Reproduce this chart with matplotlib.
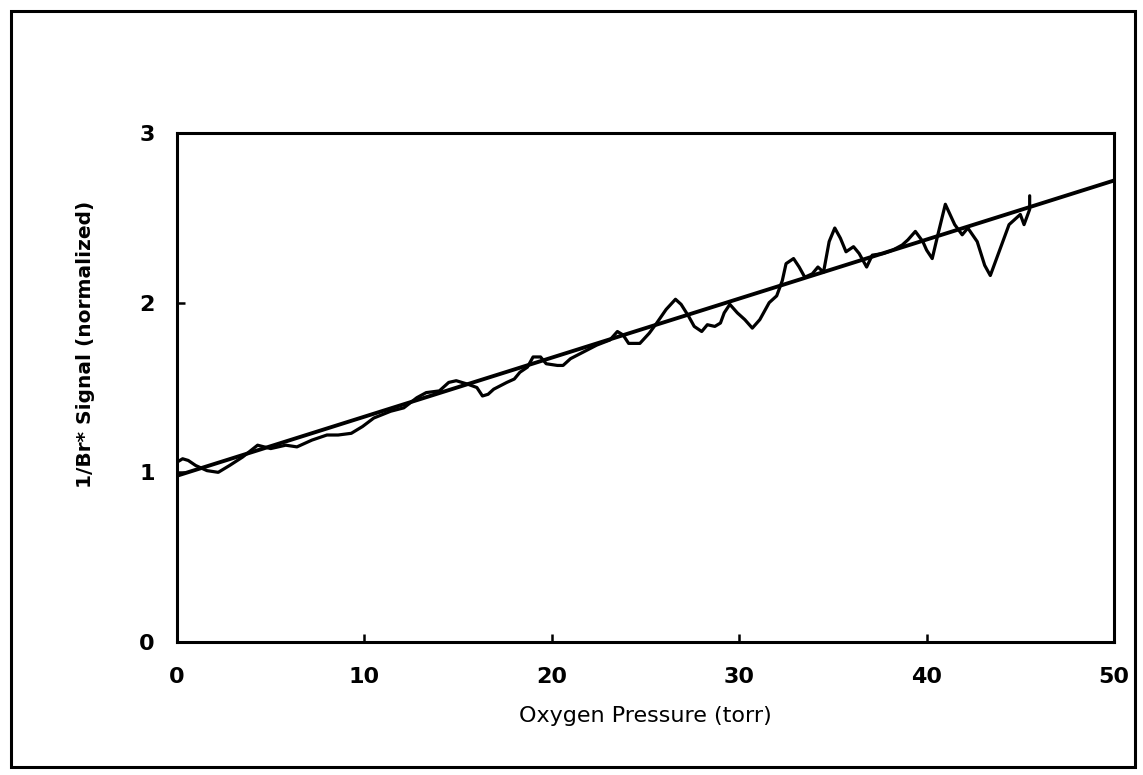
import matplotlib
matplotlib.use("Agg")
import matplotlib.pyplot as plt
from matplotlib.patches import Rectangle

# Measured signal (noisy trace)
pressure = [0.0, 0.3, 0.6, 1.0, 1.6, 2.2, 2.8, 3.5, 4.3, 5.0, 5.8, 6.4, 7.2, 8.0, 8.6, 9.3, 9.9,
            10.5, 11.4, 12.1, 12.8, 13.3, 14.0, 14.5, 14.9, 15.5, 16.0, 16.3, 16.6, 16.9,
            17.6, 18.0, 18.3, 18.7, 19.0, 19.4, 19.7, 20.3, 20.6, 21.0, 21.7, 22.4, 23.1,
            23.5, 23.8, 24.1, 24.7, 25.2, 25.6, 26.1, 26.6, 26.9, 27.3, 27.6, 28.0, 28.3,
            28.7, 29.0, 29.2, 29.5, 29.9, 30.3, 30.7, 31.1, 31.6, 32.0, 32.3, 32.5, 32.9,
            33.2, 33.5, 33.9, 34.2, 34.5, 34.8, 35.1, 35.4, 35.7, 36.1, 36.4, 36.8, 37.1,
            37.7, 38.2, 38.7, 39.0, 39.4, 39.8, 40.0, 40.3, 40.6, 41.0, 41.5, 41.9, 42.2,
            42.7, 43.1, 43.4, 43.9, 44.4, 45.0, 45.2, 45.5, 45.5]
signal = [1.06, 1.08, 1.07, 1.04, 1.01, 1.00, 1.04, 1.09, 1.16, 1.14, 1.16, 1.15, 1.19, 1.22, 1.22, 1.23, 1.27,
          1.32, 1.36, 1.38, 1.44, 1.47, 1.48, 1.53, 1.54, 1.52, 1.50, 1.45, 1.46, 1.49,
          1.53, 1.55, 1.59, 1.62, 1.68, 1.68, 1.64, 1.63, 1.63, 1.67, 1.71, 1.75, 1.78,
          1.83, 1.81, 1.76, 1.76, 1.82, 1.88, 1.96, 2.02, 1.99, 1.92, 1.86, 1.83, 1.87,
          1.86, 1.88, 1.94, 1.99, 1.94, 1.90, 1.85, 1.90, 2.00, 2.04, 2.13, 2.23, 2.26,
          2.21, 2.15, 2.17, 2.21, 2.18, 2.36, 2.44, 2.38, 2.30, 2.33, 2.29, 2.21, 2.28,
          2.29, 2.31, 2.34, 2.37, 2.42, 2.36, 2.31, 2.26, 2.40, 2.58, 2.46, 2.40, 2.44,
          2.36, 2.22, 2.16, 2.31, 2.46, 2.52, 2.46, 2.55, 2.63]

# Linear fit endpoints
fit_x = [0, 50]
fit_y = [0.98, 2.72]

x_ticks = [0, 10, 20, 30, 40, 50]
y_ticks = [0, 1, 2, 3]

fig = plt.figure(figsize=(11.43, 7.75), dpi=100)
ax = fig.add_axes([177/1143, 1 - 642/775, (1114-177)/1143, (642-133)/775])

ax.plot(pressure, signal, color="black", lw=2.3, solid_joinstyle="round", solid_capstyle="round")
ax.plot(fit_x, fit_y, color="black", lw=2.8)

ax.set_xlim(0, 50)
ax.set_ylim(0, 3)
ax.set_xticks(x_ticks)
ax.set_yticks(y_ticks)
ax.tick_params(direction="in", length=6, width=1.8, labelsize=16)
ax.tick_params(axis="x", pad=18)
ax.tick_params(axis="y", pad=16)
for lab in ax.get_xticklabels() + ax.get_yticklabels():
    lab.set_fontweight("bold")
for s in ax.spines.values():
    s.set_linewidth(2.2)

ax.set_xlabel("Oxygen Pressure (torr)", fontsize=16, labelpad=14)
ax.set_ylabel("1/Br* Signal (normalized)", fontsize=14.5, fontweight="bold")
ax.yaxis.set_label_coords(-0.088, 0.585)

fig.patches.append(Rectangle((11/1143, 1 - 767/775), (1135-11)/1143, (767-11)/775,
                             transform=fig.transFigure, fill=False, edgecolor="black", lw=2.2))

fig.savefig("out.png", dpi=100)
